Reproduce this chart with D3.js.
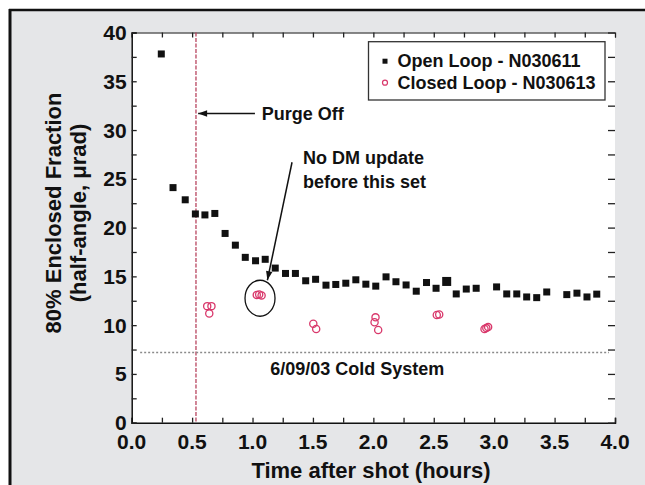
<!DOCTYPE html>
<html>
<head>
<meta charset="utf-8">
<script src="https://cdn.jsdelivr.net/npm/d3@7"></script>
<style>
  html, body { margin: 0; padding: 0; background: #fff; }
  svg { display: block; font-family: "Liberation Sans", Arial, sans-serif; font-weight: bold; }
</style>
</head>
<body>
<div id="chart"></div>
<script>
// time after shot (hours) and 80% enclosed half-angle (urad)
var openTime = [0.245, 0.342, 0.443, 0.527, 0.606, 0.688, 0.773, 0.858, 0.940, 1.025,
  1.105, 1.188, 1.273, 1.355, 1.440, 1.522, 1.608, 1.689, 1.772, 1.855,
  1.938, 2.020, 2.105, 2.187, 2.271, 2.355, 2.440, 2.519, 2.607, 2.686,
  2.769, 2.851, 3.020, 3.104, 3.187, 3.269, 3.352, 3.435, 3.601, 3.685,
  3.768, 3.849];
var openValue = [37.8, 24.1, 22.85, 21.4, 21.3, 21.45, 19.4, 18.2, 16.95, 16.6,
  16.75, 15.85, 15.3, 15.3, 14.55, 14.7, 14.1, 14.17, 14.3, 14.65,
  14.2, 14.0, 14.95, 14.45, 14.12, 13.48, 14.37, 13.78, 14.48, 13.2,
  13.7, 13.78, 13.92, 13.2, 13.2, 12.89, 12.82, 13.4, 13.13, 13.28,
  12.89, 13.18];
var closedTime = [0.625, 0.660, 0.642, 1.035, 1.055, 1.075, 1.503, 1.527, 2.010, 2.018,
  2.040, 2.525, 2.545, 2.920, 2.935, 2.950];
var closedValue = [11.95, 11.95, 11.2, 13.1, 13.15, 13.05, 10.15, 9.6, 10.3, 10.8,
  9.5, 11.05, 11.1, 9.6, 9.7, 9.8];

var xTicks = [0, 0.5, 1, 1.5, 2, 2.5, 3, 3.5, 4];
var yTicks = [0, 5, 10, 15, 20, 25, 30, 35, 40];
var seriesNames = ['Open Loop - N030611', 'Closed Loop - N030613'];

var purgeOff = 0.532;     // hours
var coldSystem = 7.2;     // urad
var bigPoint = 28;        // the one drawn larger

var W = 645, H = 485;
var margin = {left: 131.7, right: 30, top: 32.5, bottom: 62.3};

var svg = d3.select('#chart').append('svg').attr('width', W).attr('height', H);

// outer frame
svg.append('rect').attr('x', 10).attr('y', 10).attr('width', W - 10).attr('height', H - 10).attr('fill', '#e5e6e8');
svg.append('line').attr('x1', 10).attr('x2', 10).attr('y1', 9).attr('y2', H).attr('stroke', '#111').attr('stroke-width', 3);
svg.append('line').attr('x1', 9).attr('x2', W).attr('y1', 10).attr('y2', 10).attr('stroke', '#111').attr('stroke-width', 2.5);

var x = d3.scaleLinear().domain([0, 4]).range([margin.left, W - margin.right]);
var y = d3.scaleLinear().domain([0, 40]).range([H - margin.bottom, margin.top]);

svg.append('rect').attr('x', x(0)).attr('y', y(40)).attr('width', x(4) - x(0)).attr('height', y(0) - y(40)).attr('fill', '#fff');

var minorX = d3.range(0, 4.01, 0.25), minorY = d3.range(0, 40.1, 2.5);

// axes with inward ticks, labels drawn separately
var gx = svg.append('g').attr('transform', 'translate(0,' + y(0) + ')')
  .call(d3.axisBottom(x).tickValues(minorX).tickSize(-5).tickFormat(''));
var gxt = svg.append('g').attr('transform', 'translate(0,' + y(40) + ')')
  .call(d3.axisTop(x).tickValues(minorX).tickSize(-5).tickFormat(''));
var gy = svg.append('g').attr('transform', 'translate(' + x(0) + ',0)')
  .call(d3.axisLeft(y).tickValues(minorY).tickSize(-5).tickFormat(''));
var gyr = svg.append('g').attr('transform', 'translate(' + x(4) + ',0)')
  .call(d3.axisRight(y).tickValues(minorY).tickSize(-7).tickFormat(''));
[gx, gxt, gy, gyr].forEach(function(g) {
  g.selectAll('line').attr('stroke', '#222').attr('stroke-width', 1.3);
  g.select('.domain').attr('stroke', '#111').attr('stroke-width', 1.5);
});
gyr.select('.domain').remove();
gxt.select('.domain').attr('stroke-width', 1);

svg.append('g').selectAll('text').data(xTicks).enter().append('text')
  .attr('x', function(d) { return x(d); }).attr('y', y(0) + 26)
  .attr('text-anchor', 'middle').attr('font-size', 21).attr('fill', '#111')
  .text(function(d) { return d.toFixed(1); });
svg.append('g').selectAll('text').data(yTicks).enter().append('text')
  .attr('x', x(0) - 5).attr('y', function(d) { return y(d); }).attr('dy', '0.36em')
  .attr('text-anchor', 'end').attr('font-size', 21).attr('fill', '#111')
  .text(function(d) { return d; });

svg.append('text').attr('x', 371).attr('y', 478).attr('text-anchor', 'middle')
  .attr('font-size', 22).attr('fill', '#111').text('Time after shot (hours)');
var yt = svg.append('text').attr('transform', 'translate(0,213) rotate(-90)')
  .attr('text-anchor', 'middle').attr('font-size', 22).attr('fill', '#111');
yt.append('tspan').attr('x', 0).attr('y', 61).text('80% Enclosed Fraction');
yt.append('tspan').attr('x', 0).attr('y', 86).text('(half-angle, \u03bcrad)');

// reference lines
svg.append('line').attr('x1', x(purgeOff)).attr('x2', x(purgeOff)).attr('y1', y(40)).attr('y2', y(0))
  .attr('stroke', '#b8455f').attr('stroke-width', 1.3).attr('stroke-dasharray', '4,1.5');
svg.append('line').attr('x1', x(0.07)).attr('x2', x(3.95)).attr('y1', y(coldSystem)).attr('y2', y(coldSystem))
  .attr('stroke', '#8a8a8a').attr('stroke-width', 1.6).attr('stroke-dasharray', '2,2');

// markers
svg.append('g').selectAll('rect').data(openTime).enter().append('rect')
  .attr('width', function(d, i) { return i == bigPoint ? 9 : 7; })
  .attr('height', function(d, i) { return i == bigPoint ? 9 : 7; })
  .attr('x', function(d, i) { return x(d) - (i == bigPoint ? 4.5 : 3.5); })
  .attr('y', function(d, i) { return y(openValue[i]) - (i == bigPoint ? 4.5 : 3.5); })
  .attr('fill', '#111');
svg.append('g').selectAll('circle').data(closedTime).enter().append('circle')
  .attr('cx', function(d) { return x(d); })
  .attr('cy', function(d, i) { return y(closedValue[i]); })
  .attr('r', 3.6).attr('fill', 'none').attr('stroke', '#d9386b').attr('stroke-width', 1.3);

// annotations
function arrow(x1, y1, x2, y2) {
  var a = Math.atan2(y2 - y1, x2 - x1), L = 9, w = 3.2;
  svg.append('line').attr('x1', x1).attr('y1', y1).attr('x2', x2).attr('y2', y2)
    .attr('stroke', '#111').attr('stroke-width', 1.5);
  var bx = x2 - L * Math.cos(a), by = y2 - L * Math.sin(a);
  svg.append('path').attr('fill', '#111').attr('d', 'M' + x2 + ',' + y2 +
    'L' + (bx + w * Math.sin(a)) + ',' + (by - w * Math.cos(a)) +
    'L' + (bx - w * Math.sin(a)) + ',' + (by + w * Math.cos(a)) + 'Z');
}
arrow(x(1.02), y(31.7), x(0.55), y(31.7));
svg.append('text').attr('x', x(1.076)).attr('y', y(31.7)).attr('dy', '0.36em')
  .attr('font-size', 18).attr('fill', '#111').text('Purge Off');

arrow(x(1.327), y(26.7), x(1.123), y(14.6));
svg.append('text').attr('x', x(1.418)).attr('y', y(27.15)).attr('dy', '0.36em')
  .attr('font-size', 18).attr('fill', '#111').text('No DM update');
svg.append('text').attr('x', x(1.418)).attr('y', y(24.7)).attr('dy', '0.36em')
  .attr('font-size', 18).attr('fill', '#111').text('before this set');
svg.append('ellipse').attr('cx', x(1.062)).attr('cy', y(12.76)).attr('rx', 15).attr('ry', 18)
  .attr('fill', 'none').attr('stroke', '#111').attr('stroke-width', 1.3);

svg.append('text').attr('x', x(1.146)).attr('y', y(5.6)).attr('dy', '0.36em')
  .attr('font-size', 18).attr('fill', '#111').text('6/09/03 Cold System');

// legend
var lg = svg.append('g').attr('transform', 'translate(368.5,41.7)');
lg.append('rect').attr('width', 236.5).attr('height', 58.3).attr('fill', '#fff')
  .attr('stroke', '#333').attr('stroke-width', 1.3);
lg.append('rect').attr('x', 14).attr('y', 17).attr('width', 5).attr('height', 5).attr('fill', '#111');
lg.append('circle').attr('cx', 16.5).attr('cy', 41).attr('r', 2.5).attr('fill', 'none')
  .attr('stroke', '#d9386b').attr('stroke-width', 1.2);
lg.selectAll('text.name').data(seriesNames).enter().append('text').attr('class', 'name')
  .attr('x', 29).attr('y', function(d, i) { return 19 + i * 22; }).attr('dy', '0.36em')
  .attr('font-size', 18).attr('fill', '#111').text(function(d) { return d; });
</script>
</body>
</html>
